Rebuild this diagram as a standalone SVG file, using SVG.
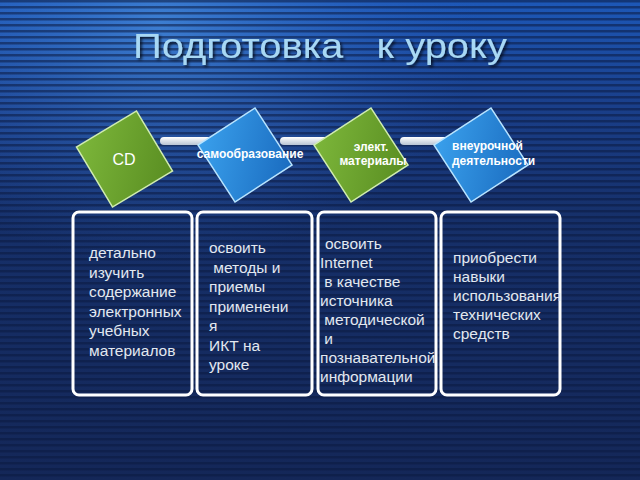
<svg xmlns="http://www.w3.org/2000/svg" width="640" height="480" viewBox="0 0 640 480">
<defs>
<linearGradient id="bg" x1="0" y1="0" x2="0" y2="1">
<stop offset="0" stop-color="#1d58b8"/>
<stop offset="0.22" stop-color="#1a3f8a"/>
<stop offset="0.45" stop-color="#16306a"/>
<stop offset="1" stop-color="#142758"/>
</linearGradient>
<radialGradient id="glow" cx="0.25" cy="0.05" r="0.5">
<stop offset="0" stop-color="#4a90e0" stop-opacity="0.7"/>
<stop offset="1" stop-color="#2a60c0" stop-opacity="0"/>
</radialGradient>
<pattern id="stripes" width="8" height="6" patternUnits="userSpaceOnUse">
<rect width="8" height="2.5" fill="#0a1a40" fill-opacity="0.55"/>
</pattern>
<linearGradient id="green" x1="0" y1="0" x2="1" y2="1">
<stop offset="0" stop-color="#7cb63a"/>
<stop offset="1" stop-color="#5a8e22"/>
</linearGradient>
<linearGradient id="blue" x1="0" y1="0" x2="1" y2="1">
<stop offset="0" stop-color="#3aa0ec"/>
<stop offset="1" stop-color="#1a6cc0"/>
</linearGradient>
<linearGradient id="bar" x1="0" y1="0" x2="0" y2="1">
<stop offset="0" stop-color="#ffffff"/>
<stop offset="1" stop-color="#b8c4d4"/>
</linearGradient>
<filter id="sh" x="-10%" y="-10%" width="130%" height="140%">
<feDropShadow dx="2" dy="2" stdDeviation="1.5" flood-color="#000" flood-opacity="0.7"/>
</filter>
</defs>
<style>
.box{fill:none;stroke:#ffffff;stroke-width:3}
.t{font-family:"Liberation Sans",Arial,sans-serif;font-size:15.5px;fill:#e2e8f0}
.dl{font-family:"Liberation Sans",Arial,sans-serif;font-size:12px;font-weight:bold;fill:#ffffff}
.gd{fill:url(#green);stroke:#d0ecb0;stroke-width:1.5}
.bd{fill:url(#blue);stroke:#b8e4ff;stroke-width:1.5}
.bar{fill:url(#bar)}
</style>
<rect width="640" height="480" fill="url(#bg)"/>
<rect width="640" height="480" fill="url(#glow)"/>
<rect width="640" height="480" fill="url(#stripes)"/>
<text x="133" y="58" font-family="'Liberation Sans',Arial,sans-serif" font-size="35" fill="#a8d8f4" filter="url(#sh)" textLength="374" lengthAdjust="spacingAndGlyphs" xml:space="preserve">Подготовка   к уроку</text>
<g id="connectors">
<rect class="bar" x="160" y="137" width="90" height="8" rx="4"/>
<rect class="bar" x="280" y="137" width="90" height="8" rx="4"/>
<rect class="bar" x="400" y="137" width="90" height="8" rx="4"/>
</g>
<g id="n-cd">
<rect class="gd" x="-35" y="-35" width="70" height="70" transform="translate(124.5 159) rotate(-31)"/>
<text x="124" y="165" text-anchor="middle" font-family="'Liberation Sans',Arial,sans-serif" font-size="16" fill="#ffffff">CD</text>
</g>
<g id="n-self">
<rect class="bd" x="-34" y="-34" width="68" height="68" transform="translate(245 155) rotate(-33)"/>
<text class="dl" x="250" y="158" text-anchor="middle">самообразование</text>
</g>
<g id="n-mat">
<rect class="gd" x="-34" y="-34" width="68" height="68" transform="translate(361 155) rotate(-33)"/>
<text class="dl" x="371" y="151" text-anchor="middle">элект.</text>
<text class="dl" x="373" y="165" text-anchor="middle">материалы</text>
</g>
<g id="n-extra">
<rect class="bd" x="-34" y="-34" width="68" height="68" transform="translate(481 155) rotate(-33)"/>
<text class="dl" x="452" y="150">внеурочной</text>
<text class="dl" x="452" y="165">деятельности</text>
</g>
<g id="b1">
<rect class="box" x="73" y="212" width="119" height="183" rx="6"/>
<text class="t" x="89" y="258">детально</text>
<text class="t" x="89" y="277.5">изучить</text>
<text class="t" x="89" y="297">содержание</text>
<text class="t" x="89" y="316.5">электронных</text>
<text class="t" x="89" y="336">учебных</text>
<text class="t" x="89" y="355.5">материалов</text>
</g>
<g id="b2">
<rect class="box" x="197" y="212" width="115" height="183" rx="6"/>
<text class="t" x="209" y="253">освоить</text>
<text class="t" x="209" y="272.5" xml:space="preserve"> методы и</text>
<text class="t" x="209" y="292">приемы</text>
<text class="t" x="209" y="311.5">применени</text>
<text class="t" x="209" y="331">я</text>
<text class="t" x="209" y="350.5">ИКТ на</text>
<text class="t" x="209" y="370">уроке</text>
</g>
<g id="b3">
<rect class="box" x="318" y="212" width="118" height="183" rx="6"/>
<text class="t" x="325" y="249">освоить</text>
<text class="t" x="320" y="268">Internet</text>
<text class="t" x="320" y="287" xml:space="preserve"> в качестве</text>
<text class="t" x="320" y="306">источника</text>
<text class="t" x="320" y="325" xml:space="preserve"> методической</text>
<text class="t" x="320" y="344" xml:space="preserve"> и</text>
<text class="t" x="320" y="363">познавательной</text>
<text class="t" x="320" y="382">информации</text>
</g>
<g id="b4">
<rect class="box" x="441" y="212" width="119" height="183" rx="6"/>
<text class="t" x="453" y="263">приобрести</text>
<text class="t" x="453" y="282">навыки</text>
<text class="t" x="453" y="301">использования</text>
<text class="t" x="453" y="320">технических</text>
<text class="t" x="453" y="339">средств</text>
</g>
</svg>
